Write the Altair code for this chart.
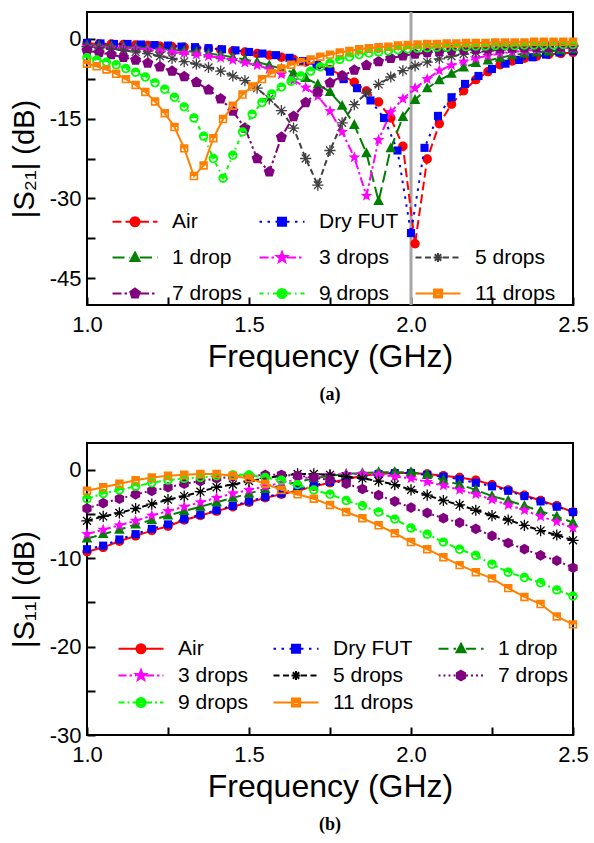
import math
import altair as alt
import pandas as pd

FONT = "Liberation Sans"

# ---------------- data ----------------
SERIES = ["Air", "Dry FUT", "1 drop", "3 drops", "5 drops", "7 drops", "9 drops", "11 drops"]

# frequency sample grids (GHz)
F_A = [1.0, 1.0375, 1.075, 1.1125, 1.15, 1.1875, 1.225, 1.2625, 1.3, 1.3375,
       1.375, 1.4125, 1.45, 1.4875, 1.525, 1.5625, 1.6, 1.6375, 1.675, 1.7125,
       1.75, 1.7875, 1.825, 1.8625, 1.9, 1.9375, 1.975, 2.0125, 2.05, 2.0875,
       2.125, 2.1625, 2.2, 2.2375, 2.275, 2.3125, 2.35, 2.3875, 2.425, 2.4625, 2.5]
F_B = [1.0, 1.0417, 1.0833, 1.125, 1.1667, 1.2083, 1.25, 1.2917, 1.3333, 1.375,
       1.4167, 1.4583, 1.5, 1.5417, 1.5833, 1.625, 1.6667, 1.7083, 1.75, 1.7917,
       1.8333, 1.875, 1.9167, 1.9583, 2.0, 2.0417, 2.0833, 2.125, 2.1667, 2.2083,
       2.25, 2.2917, 2.3333, 2.375, 2.4167, 2.4583, 2.5]
F_D = [1.0, 1.03, 1.06, 1.09, 1.12, 1.15, 1.18, 1.21, 1.24, 1.27,
       1.3, 1.33, 1.36, 1.39, 1.42, 1.45, 1.48, 1.51, 1.54, 1.57,
       1.6, 1.63, 1.66, 1.69, 1.72, 1.75, 1.78, 1.81, 1.84, 1.87,
       1.9, 1.93, 1.96, 1.99, 2.02, 2.05, 2.08, 2.11, 2.14, 2.17,
       2.2, 2.23, 2.26, 2.29, 2.32, 2.35, 2.38, 2.41, 2.44, 2.47, 2.5]
F_E = [1.0, 1.05, 1.1, 1.15, 1.2, 1.25, 1.3, 1.35, 1.4, 1.45,
       1.5, 1.55, 1.6, 1.65, 1.7, 1.75, 1.8, 1.85, 1.9, 1.95,
       2.0, 2.05, 2.1, 2.15, 2.2, 2.25, 2.3, 2.35, 2.4, 2.45, 2.5]

# |S21| (dB), panel (a)
S21_AIR = [-0.9, -1.0, -1.0, -1.1, -1.2, -1.3, -1.4, -1.5, -1.6, -1.8,
           -1.9, -2.1, -2.3, -2.5, -2.8, -3.1, -3.5, -3.9, -4.4, -5.0,
           -5.8, -6.9, -8.2, -9.8, -11.9, -14.9, -20.2, -38.5, -22.6, -16.0,
           -12.3, -9.8, -7.7, -6.2, -4.9, -4.2, -3.7, -3.3, -3.0, -2.8, -2.6]
S21_DRY = [-0.8, -0.9, -1.0, -1.0, -1.1, -1.2, -1.3, -1.5, -1.6, -1.8,
           -2.0, -2.2, -2.5, -2.8, -3.1, -3.6, -4.2, -5.0, -6.2, -7.6,
           -9.3, -11.6, -14.9, -21.0, -36.5, -20.5, -14.5, -11.0, -8.5, -7.0,
           -5.7, -4.7, -4.0, -3.5, -3.0, -2.6, -2.3]
S21_1 = [-1.2, -1.3, -1.4, -1.5, -1.6, -1.8, -1.9, -2.1, -2.3, -2.5,
         -2.8, -3.1, -3.5, -3.9, -4.4, -5.0, -5.6, -6.4, -7.4, -8.6,
         -10.0, -12.6, -16.2, -21.5, -30.5, -20.6, -14.7, -11.5, -9.3, -7.8,
         -6.6, -5.4, -4.6, -4.1, -3.6, -3.1, -2.8, -2.6, -2.4, -2.2, -2.0]
S21_3 = [-1.5, -1.6, -1.7, -1.8, -1.9, -2.1, -2.3, -2.5, -2.7, -3.0,
         -3.3, -3.6, -4.0, -4.5, -5.0, -5.7, -6.7, -7.8, -9.2, -10.8,
         -13.6, -17.5, -22.3, -29.5, -19.0, -13.8, -11.3, -9.3, -7.6, -6.0,
         -5.0, -4.3, -3.7, -3.2, -2.8, -2.5, -2.3, -2.1, -1.9, -1.8, -1.7]
S21_5 = [-1.5, -1.7, -1.9, -2.2, -2.5, -2.8, -3.3, -3.7, -4.3, -4.8,
         -5.4, -6.1, -7.0, -7.9, -9.3, -11.3, -13.5, -16.8, -22.5, -27.5,
         -21.0, -15.8, -12.4, -10.2, -8.6, -7.2, -6.0, -5.1, -4.4, -3.8,
         -3.3, -2.9, -2.6, -2.3, -2.1, -1.9, -1.8, -1.7, -1.6, -1.5, -1.4]
S21_7 = [-2.3, -2.6, -3.0, -3.5, -4.0, -4.6, -5.3, -6.1, -7.1, -8.2,
         -9.6, -11.3, -13.6, -16.8, -22.5, -25.0, -18.5, -14.6, -12.0, -10.0,
         -8.3, -7.0, -5.9, -5.0, -4.3, -3.7, -3.2, -2.9, -2.6, -2.4,
         -2.2, -2.1, -2.0, -1.9, -1.8, -1.7, -1.7, -1.6, -1.6, -1.5, -1.5]
S21_9 = [-3.6, -4.0, -4.4, -4.9, -5.6, -6.3, -7.2, -8.3, -9.5, -11.0,
         -12.8, -14.9, -18.3, -22.5, -26.2, -21.9, -17.5, -14.2, -12.0, -10.4,
         -9.1, -8.0, -7.0, -6.1, -5.3, -4.6, -3.9, -3.4, -3.0, -2.7,
         -2.5, -2.3, -2.1, -1.9, -1.8, -1.7, -1.6, -1.6, -1.5, -1.5,
         -1.4, -1.4, -1.3, -1.3, -1.3, -1.2, -1.2, -1.2, -1.2, -1.1, -1.1]
S21_11 = [-4.7, -5.2, -5.8, -6.6, -7.6, -8.7, -10.0, -11.8, -14.0, -16.6,
          -20.6, -25.8, -23.8, -18.7, -15.1, -12.6, -10.5, -9.0, -7.6, -6.5,
          -5.6, -4.9, -4.4, -3.9, -3.4, -3.0, -2.6, -2.3, -2.0, -1.8,
          -1.6, -1.5, -1.3, -1.2, -1.1, -1.0, -1.0, -0.9, -0.9, -0.8,
          -0.8, -0.8, -0.7, -0.7, -0.7, -0.7, -0.6, -0.6, -0.6, -0.6, -0.6]

# |S11| (dB), panel (b)
S11_AIR = [-9.3, -8.8, -8.1, -7.5, -6.9, -6.4, -5.7, -5.2, -4.7, -4.2,
           -3.7, -3.2, -2.8, -2.4, -1.9, -1.5, -1.1, -0.7, -0.5, -0.4,
           -0.4, -0.5, -0.7, -0.9, -1.2, -1.7, -2.3, -2.9, -3.5, -4.1, -4.8]
S11_DRY = [-9.0, -8.6, -7.9, -7.3, -6.7, -6.2, -5.6, -5.1, -4.6, -4.1,
           -3.6, -3.1, -2.7, -2.2, -1.8, -1.4, -1.0, -0.7, -0.5, -0.4,
           -0.4, -0.6, -0.8, -1.1, -1.5, -1.9, -2.4, -3.0, -3.6, -4.2, -4.8]
S11_1 = [-7.8, -7.3, -6.8, -6.2, -5.7, -5.2, -4.7, -4.2, -3.7, -3.2,
         -2.7, -2.2, -1.8, -1.4, -1.0, -0.7, -0.5, -0.4, -0.3, -0.3,
         -0.3, -0.6, -1.2, -1.7, -2.3, -3.0, -3.5, -4.1, -4.7, -5.3, -6.0]
S11_3 = [-7.3, -6.8, -6.3, -5.8, -5.2, -4.7, -4.2, -3.7, -3.2, -2.7,
         -2.3, -1.9, -1.5, -1.1, -0.8, -0.6, -0.5, -0.5, -0.6, -0.8,
         -1.0, -1.4, -1.8, -2.3, -2.8, -3.4, -4.0, -4.6, -5.3, -5.9, -6.6]
S11_5 = [-5.8, -5.3, -4.9, -4.4, -3.9, -3.4, -3.0, -2.5, -2.0, -1.7,
         -1.3, -1.0, -0.7, -0.5, -0.5, -0.6, -0.8, -1.0, -1.3, -1.7,
         -2.3, -2.9, -3.5, -4.0, -4.6, -5.2, -5.7, -6.3, -6.9, -7.4, -8.0]
S11_7 = [-4.4, -3.8, -3.3, -2.8, -2.4, -2.0, -1.6, -1.3, -1.0, -0.8,
         -0.7, -0.6, -0.6, -0.7, -0.9, -1.2, -1.6, -2.2, -2.9, -3.6,
         -4.3, -4.9, -5.5, -6.0, -6.7, -7.5, -8.3, -9.0, -9.7, -10.3, -11.1]
S11_9 = [-3.3, -2.7, -2.3, -1.9, -1.5, -1.2, -1.0, -0.9, -0.7, -0.6,
         -0.6, -0.9, -1.2, -1.7, -2.3, -2.8, -3.5, -4.1, -4.8, -5.6,
         -6.6, -7.3, -8.2, -9.0, -9.7, -10.7, -11.6, -12.2, -12.8, -13.6, -14.3]
S11_11 = [-2.4, -2.0, -1.6, -1.2, -0.9, -0.7, -0.6, -0.5, -0.5, -0.7,
          -1.0, -1.6, -2.3, -2.8, -3.3, -4.0, -4.8, -5.5, -6.3, -7.2,
          -8.2, -9.0, -9.9, -10.8, -11.6, -12.3, -13.4, -14.4, -15.2, -16.6, -17.5]

TOP_DATA = [(F_A, S21_AIR), (F_B, S21_DRY), (F_A, S21_1), (F_A, S21_3),
            (F_A, S21_5), (F_A, S21_7), (F_D, S21_9), (F_D, S21_11)]
BOT_DATA = [(F_E, S11_AIR), (F_E, S11_DRY), (F_E, S11_1), (F_E, S11_3),
            (F_E, S11_5), (F_E, S11_7), (F_E, S11_9), (F_E, S11_11)]

MARKER_FREQ = [2.0]

X_TICKS = [1.0, 1.25, 1.5, 1.75, 2.0, 2.25, 2.5]
X_LABELED = [1.0, 1.5, 2.0, 2.5]
Y_TICKS_TOP = [0, -7.5, -15, -22.5, -30, -37.5, -45]
Y_LABELED_TOP = [0, -15, -30, -45]
Y_TICKS_BOT = [0, -5, -10, -15, -20, -25, -30]
Y_LABELED_BOT = [0, -10, -20, -30]

# ---------------- styles ----------------
COLORS_TOP = ["#FF0000", "#0000FF", "#008000", "#FF00FF", "#404040", "#800080", "#00FF00", "#FF8000"]
COLORS_BOT = ["#FF0000", "#0000FF", "#008000", "#FF00FF", "#000000", "#800080", "#00FF00", "#FF8000"]
MARKERS_TOP = ["circle", "square", "triangle", "star", "asterisk", "pentagon", "halfcircle", "halfsquare"]
MARKERS_BOT = ["circle", "square", "triangle", "star", "asterisk", "hexagon", "halfcircle", "halfsquare"]
DASH_TOP = [[9, 4], [2.5, 5.5], [12, 5], [9, 3, 2.5, 3], [6, 3.5], [9, 3, 2.5, 3, 2.5, 3], [4, 4, 1.5, 4], None]
DASH_BOT = [None, [2.5, 5.5], [10, 5], [8, 3, 2.5, 3], [6, 3.5], [2, 3], [6, 3, 2, 3], None]
MARKER_R = {"circle": 4.7, "square": 4.5, "triangle": 5.3, "star": 5.1, "asterisk": 5.6,
            "pentagon": 5.3, "hexagon": 5.1, "halfcircle": 4.7, "halfsquare": 4.7}


def fmt(v):
    return f"{v:.3f}".rstrip("0").rstrip(".") if abs(v) > 1e-9 else "0"


def poly(pts):
    return "M" + "L".join(f"{fmt(x)},{fmt(y)}" for x, y in pts) + "Z"


def regular(n, r, cx):
    return [(cx + r * math.cos(math.radians(-90 + 360 * i / n)),
             r * math.sin(math.radians(-90 + 360 * i / n))) for i in range(n)]


def circ(cx, r, ccw=False):
    sw = 0 if ccw else 1
    return (f"M{fmt(cx - r)},0A{fmt(r)},{fmt(r)},0,1,{sw},{fmt(cx + r)},0"
            f"A{fmt(r)},{fmt(r)},0,1,{sw},{fmt(cx - r)},0Z")


def marker(kind, cx, r):
    if kind == "circle":
        return circ(cx, r)
    if kind == "square":
        s = r * 0.9
        return poly([(cx - s, -s), (cx + s, -s), (cx + s, s), (cx - s, s)])
    if kind == "triangle":
        return poly([(cx, -1.1 * r), (cx + r, 0.75 * r), (cx - r, 0.75 * r)])
    if kind == "star":
        pts = []
        for i in range(10):
            rr = 1.2 * r if i % 2 == 0 else 0.5 * r
            a = math.radians(-90 + 36 * i)
            pts.append((cx + rr * math.cos(a), rr * math.sin(a)))
        return poly(pts)
    if kind == "pentagon":
        return poly(regular(5, 1.1 * r, cx))
    if kind == "hexagon":
        return poly(regular(6, 1.05 * r, cx))
    if kind == "asterisk":
        out = ""
        for ang in (0, 45, 90, 135):
            dx = r * math.cos(math.radians(ang))
            dy = r * math.sin(math.radians(ang))
            out += f"M{fmt(cx - dx)},{fmt(-dy)}L{fmt(cx + dx)},{fmt(dy)}"
        return out
    if kind == "halfcircle":
        ri = 0.62 * r
        return (circ(cx, r) + circ(cx, ri, ccw=True)
                + f"M{fmt(cx - ri)},0A{fmt(ri)},{fmt(ri)},0,0,1,{fmt(cx + ri)},0Z")
    if kind == "halfsquare":
        s = 0.9 * r
        si = 0.55 * r
        return (poly([(cx - s, -s), (cx + s, -s), (cx + s, s), (cx - s, s)])
                + poly([(cx - si, -si), (cx - si, si), (cx + si, si), (cx + si, -si)])
                + poly([(cx - si, -si), (cx + si, -si), (cx + si, 0), (cx - si, 0)]))
    return "M0,0L0.01,0"


LEG_U = 5.0  # px per legend-path unit (symbolSize 100)


def dashes(x0, x1, dash):
    if not dash:
        return f"M{fmt(x0)},0L{fmt(x1)},0"
    d = [v / LEG_U for v in dash]
    out, x, i = "", x0, 0
    while x < x1 - 1e-6:
        seg = d[i % len(d)]
        if i % 2 == 0:
            out += f"M{fmt(x)},0L{fmt(min(x + seg, x1))},0"
        x += seg
        i += 1
    return out


def legend_symbol(kind, dash):
    cx, r = 3.5, 0.9
    return dashes(-1.0, cx - r - 0.1, dash) + dashes(cx + r + 0.1, 8.0, dash) + marker(kind, cx, r)


def make_df(data):
    rows = []
    for name, (fs, vs) in zip(SERIES, data):
        for f, v in zip(fs, vs):
            rows.append({"f": f, "v": v, "s": name})
    return pd.DataFrame(rows)


def panel(data, colors, markers, dashes_, y_dom, y_ticks, y_lab, y_title, caption,
          legend_order, leg_x, leg_y, row_pad, col_pad, vline, height):
    df = make_df(data)
    x_enc = alt.X("f:Q", scale=alt.Scale(domain=[1.0, 2.5], nice=False, zero=False),
                  axis=alt.Axis(values=X_TICKS, title="Frequency (GHz)",
                                labelExpr=f"indexof({X_LABELED}, datum.value) >= 0 ? format(datum.value, '.1f') : ''",
                                tickSize=8, offset=-8, domain=False, grid=False,
                                tickColor="black", tickWidth=2, labelFlush=False, labelOverlap=False,
                                labelFont=FONT, labelFontSize=22, labelColor="black", labelPadding=9,
                                titleFont=FONT, titleFontSize=32, titleFontWeight="normal",
                                titleColor="black", titlePadding=6))
    y_enc = alt.Y("v:Q", scale=alt.Scale(domain=y_dom, nice=False, zero=False),
                  axis=alt.Axis(values=y_ticks, title=y_title,
                                labelExpr=f"indexof({y_lab}, datum.value) >= 0 ? '' + datum.value : ''",
                                tickSize=8, offset=-8, domain=False, grid=False,
                                tickColor="black", tickWidth=2, labelOverlap=False,
                                labelFont=FONT, labelFontSize=22, labelColor="black", labelPadding=6,
                                titleFont=FONT, titleFontSize=29, titleFontWeight="normal",
                                titleColor="black", titlePadding=10))
    layers = []
    if vline:
        layers.append(alt.Chart(pd.DataFrame({"f": MARKER_FREQ}))
                      .mark_rule(color="#A6A6A6", strokeWidth=3)
                      .encode(x=alt.X("f:Q")))
    for name, color, kind, dash in zip(SERIES, colors, markers, dashes_):
        base = alt.Chart(df).transform_filter(alt.datum.s == name)
        lk = dict(color=color, strokeWidth=2)
        if dash:
            lk["strokeDash"] = dash
        layers.append(base.mark_line(**lk).encode(x=x_enc, y=y_enc))
        R = MARKER_R[kind]
        if kind == "asterisk":
            layers.append(base.mark_point(shape=marker(kind, 0, 1), size=(2 * R) ** 2, filled=False,
                                          color=color, strokeWidth=1.3, opacity=1)
                          .encode(x=x_enc, y=y_enc))
        else:
            layers.append(base.mark_point(shape=marker(kind, 0, 1), size=(2 * R) ** 2, filled=True,
                                          color=color, opacity=1, strokeWidth=0)
                          .encode(x=x_enc, y=y_enc))
    # legend
    style = {n: (c, k, d) for n, c, k, d in zip(SERIES, colors, markers, dashes_)}
    paths, fills = [], []
    for n in legend_order:
        if n in style:
            c, k, d = style[n]
            paths.append(legend_symbol(k, d))
            fills.append(c)
        else:
            paths.append("M0,0L0.01,0")
            fills.append("#FFFFFF")
    leg = alt.Legend(title=None, orient="none", legendX=leg_x, legendY=leg_y, columns=3,
                     direction="horizontal",
                     columnPadding=col_pad, rowPadding=row_pad, gridAlign="each", padding=0,
                     symbolSize=100, symbolStrokeWidth=2, symbolFillColor="white",
                     symbolStrokeColor="white", symbolOpacity=1,
                     labelFont=FONT, labelFontSize=21, labelColor="black", labelOffset=44,
                     labelLimit=400, labelExpr="datum.label == '_' ? '' : datum.label")
    layers.append(alt.Chart(df).transform_filter("false")
                  .mark_point(filled=True, opacity=1, strokeWidth=2)
                  .encode(x=x_enc, y=y_enc,
                          shape=alt.Shape("s:N", scale=alt.Scale(domain=legend_order, range=paths), legend=leg),
                          fill=alt.Fill("s:N", scale=alt.Scale(domain=legend_order, range=fills), legend=leg),
                          stroke=alt.Stroke("s:N", scale=alt.Scale(domain=legend_order, range=fills), legend=leg)))
    return alt.layer(*layers).properties(
        width=486, height=height,
        title=alt.TitleParams(caption, orient="bottom", anchor="middle", frame="group",
                              font="Liberation Serif", fontSize=18, fontWeight="bold",
                              color="black", offset=14))


top = panel(TOP_DATA, COLORS_TOP, MARKERS_TOP, DASH_TOP, [-50, 5], Y_TICKS_TOP, Y_LABELED_TOP,
            "|S\u2082\u2081| (dB)", "(a)",
            ["Air", "Dry FUT", "_", "1 drop", "3 drops", "5 drops", "7 drops", "9 drops", "11 drops"],
            20, 199, 14, 11, True, 293)
bottom = panel(BOT_DATA, COLORS_BOT, MARKERS_BOT, DASH_BOT, [-30, 3], Y_TICKS_BOT, Y_LABELED_BOT,
               "|S\u2081\u2081| (dB)", "(b)", SERIES, 26, 195, 5, 19, False, 292)

chart = (alt.vconcat(top, bottom, spacing=37)
         .resolve_scale(x="independent", y="independent", shape="independent",
                        fill="independent", stroke="independent")
         .resolve_legend(shape="independent", fill="independent", stroke="independent")
         .properties(padding={"left": 9, "top": 9, "right": 0, "bottom": 0})
         .configure(font=FONT)
         .configure_view(stroke="black", strokeWidth=2))

chart.save("out.html", embed_options={"renderer": "svg", "actions": False})
